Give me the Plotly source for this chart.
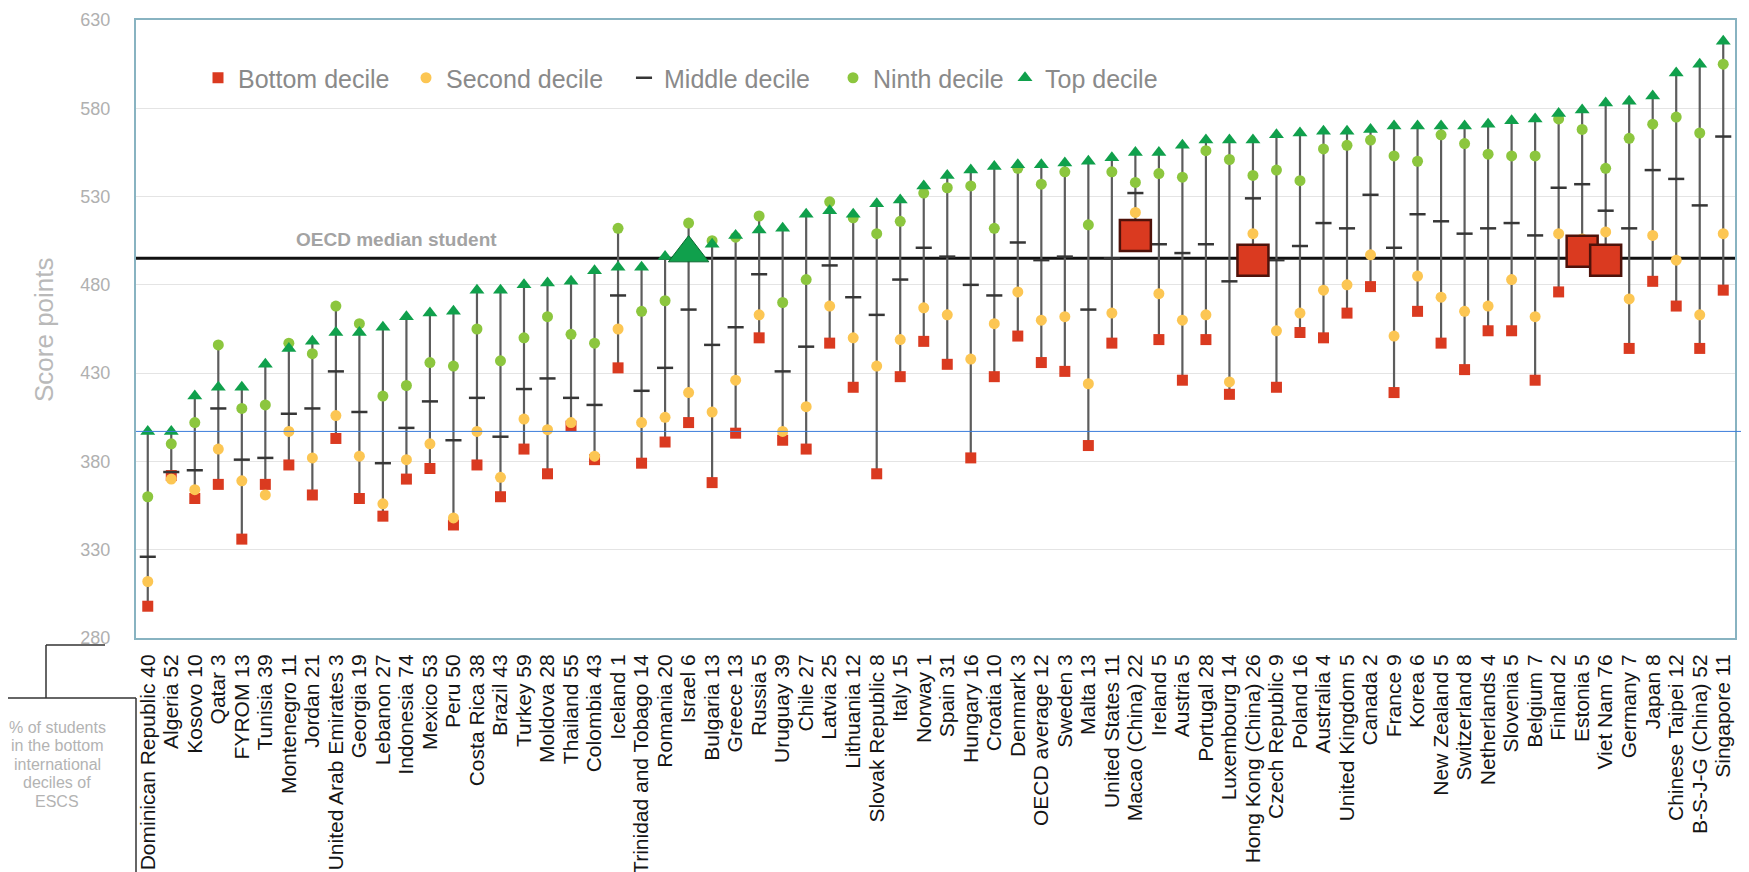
import plotly.graph_objects as go

# ---------------- data ----------------
countries = [
    "Dominican Republic", "Algeria", "Kosovo", "Qatar", "FYROM", "Tunisia", "Montenegro",
    "Jordan", "United Arab Emirates", "Georgia", "Lebanon", "Indonesia", "Mexico", "Peru",
    "Costa Rica", "Brazil", "Turkey", "Moldova", "Thailand", "Colombia", "Iceland",
    "Trinidad and Tobago", "Romania", "Israel", "Bulgaria", "Greece", "Russia", "Uruguay",
    "Chile", "Latvia", "Lithuania", "Slovak Republic", "Italy", "Norway", "Spain", "Hungary",
    "Croatia", "Denmark", "OECD average", "Sweden", "Malta", "United States", "Macao (China)",
    "Ireland", "Austria", "Portugal", "Luxembourg", "Hong Kong (China)", "Czech Republic",
    "Poland", "Australia", "United Kingdom", "Canada", "France", "Korea", "New Zealand",
    "Switzerland", "Netherlands", "Slovenia", "Belgium", "Finland", "Estonia", "Viet Nam",
    "Germany", "Japan", "Chinese Taipei", "B-S-J-G (China)", "Singapore",
]
pct_bottom_escs = [
    40, 52, 10, 3, 13, 39, 11, 21, 3, 19, 27, 74, 53, 50, 38, 43, 59, 28, 55, 43, 1,
    14, 20, 6, 13, 13, 5, 39, 27, 25, 12, 8, 15, 1, 31, 16, 10, 3, 12, 3, 13, 11, 22,
    5, 5, 28, 14, 26, 9, 16, 4, 5, 2, 9, 6, 5, 8, 4, 5, 7, 2, 5, 76, 7, 8, 12, 52, 11,
]
bottom_decile = [
    298, 372, 359, 367, 336, 367, 378, 361, 393, 359, 349, 370, 376, 344, 378, 360, 387,
    373, 400, 381, 433, 379, 391, 402, 368, 396, 450, 392, 387, 447, 422, 373, 428, 448,
    435, 382, 428, 451, 436, 431, 389, 447, 508, 449, 426, 449, 418, 494, 422, 453, 450,
    464, 479, 419, 465, 447, 432, 454, 454, 426, 476, 499, 494, 444, 482, 468, 444, 477,
]
second_decile = [
    312, 370, 364, 387, 369, 361, 397, 382, 406, 383, 356, 381, 390, 348, 397, 371, 404,
    398, 402, 383, 455, 402, 405, 419, 408, 426, 463, 397, 411, 468, 450, 434, 449, 467,
    463, 438, 458, 476, 460, 462, 424, 464, 521, 475, 460, 463, 425, 509, 454, 464, 477,
    480, 497, 451, 485, 473, 465, 468, 483, 462, 509, 506, 510, 472, 508, 494, 463, 509,
]
middle_decile = [
    326, 374, 375, 410, 381, 382, 407, 410, 431, 408, 379, 399, 414, 392, 416, 394, 421,
    427, 416, 412, 474, 420, 433, 466, 446, 456, 486, 431, 445, 491, 473, 463, 483, 501,
    496, 480, 474, 504, 494, 496, 466, 495, 532, 503, 498, 503, 482, 529, 494, 502, 515,
    512, 531, 501, 520, 516, 509, 512, 515, 508, 535, 537, 522, 512, 545, 540, 525, 564,
]
ninth_decile = [
    360, 390, 402, 446, 410, 412, 447, 441, 468, 458, 417, 423, 436, 434, 455, 437, 450,
    462, 452, 447, 512, 465, 471, 515, 505, 507, 519, 470, 483, 527, 518, 509, 516, 532,
    535, 536, 512, 546, 537, 544, 514, 544, 538, 543, 541, 556, 551, 542, 545, 539, 557,
    559, 562, 553, 550, 565, 560, 554, 553, 553, 574, 568, 546, 563, 571, 575, 566, 605,
]
top_decile = [
    397, 397, 417, 422, 422, 435, 444, 448, 453, 453, 456, 462, 464, 465, 477, 477, 480,
    481, 482, 488, 490, 490, 496, 498, 503, 508, 511, 512, 520, 522, 520, 526, 528, 536,
    542, 545, 547, 548, 548, 549, 550, 552, 555, 555, 559, 562, 562, 562, 565, 566, 567,
    567, 568, 570, 570, 570, 570, 571, 573, 574, 577, 579, 583, 584, 587, 600, 605, 618,
]
highlight_bottom = ["Macao (China)", "Hong Kong (China)", "Estonia", "Viet Nam"]
highlight_top = ["Israel"]
oecd_median_score = 495
blue_ref_score = 397
y_tickvals = [280, 330, 380, 430, 480, 530, 580, 630]
series_names = ["Bottom decile", "Second decile", "Middle decile", "Ninth decile", "Top decile"]
box_lines = ["% of students", "in the bottom", "international", "deciles of", "ESCS"]

# ---------------- layout geometry ----------------
W, H = 1749, 872
OFF = 8  # page body margin offset of the rendered figure
L, R, T, B = 128, 22, 12, 242
PW, PH = W - L - R, H - T - B


def sx(screen_x):
    return (screen_x - OFF - L) / PW


def sy(screen_y):
    return 1 - (screen_y - OFF - T) / PH


FONT = "Liberation Sans, Arial, sans-serif"
labels = [f"{c} {p}" for c, p in zip(countries, pct_bottom_escs)]

fig = go.Figure()

# vertical range lines (min to max of each country)
lx, ly = [], []
for lab, vals in zip(labels, zip(bottom_decile, second_decile, middle_decile, ninth_decile, top_decile)):
    lx += [lab, lab, None]
    ly += [min(vals), max(vals), None]
fig.add_trace(go.Scatter(x=lx, y=ly, mode="lines", line=dict(color="#5c5c5c", width=2.2),
                         showlegend=False, hoverinfo="skip"))

legend_widths = [163, 173, 164, 127, 120]
fig.add_trace(go.Scatter(x=labels, y=bottom_decile, mode="markers", name=series_names[0],
                         legendwidth=legend_widths[0],
                         marker=dict(symbol="square", size=11, color="#da3a20")))
fig.add_trace(go.Scatter(x=labels, y=second_decile, mode="markers", name=series_names[1],
                         legendwidth=legend_widths[1],
                         marker=dict(symbol="circle", size=11, color="#fcc653")))
fig.add_trace(go.Scatter(x=labels, y=middle_decile, mode="markers", name=series_names[2],
                         legendwidth=legend_widths[2],
                         marker=dict(symbol="line-ew", size=11.5, color="#363636",
                                     line=dict(color="#363636", width=2.5))))
fig.add_trace(go.Scatter(x=labels, y=ninth_decile, mode="markers", name=series_names[3],
                         legendwidth=legend_widths[3],
                         marker=dict(symbol="circle", size=11, color="#8cc63e")))
fig.add_trace(go.Scatter(x=labels, y=top_decile, mode="markers", name=series_names[4],
                         legendwidth=legend_widths[4],
                         marker=dict(symbol="triangle-up", size=13, color="#10a04c")))

# highlighted (enlarged) markers
hb_x = [lab for lab, c in zip(labels, countries) if c in highlight_bottom]
hb_y = [v for v, c in zip(bottom_decile, countries) if c in highlight_bottom]
fig.add_trace(go.Scatter(x=hb_x, y=hb_y, mode="markers", showlegend=False,
                         marker=dict(symbol="square", size=31, color="#da3a20",
                                     line=dict(color="#4e120a", width=2.5))))
ht_x = [lab for lab, c in zip(labels, countries) if c in highlight_top]
ht_y = [v for v, c in zip(top_decile, countries) if c in highlight_top]
fig.add_trace(go.Scatter(x=ht_x, y=ht_y, mode="markers", showlegend=False,
                         marker=dict(symbol="triangle-up", size=35, color="#10a04c",
                                     line=dict(color="#0a6a30", width=1))))

BOX_COLOR = "#333333"
shapes = [
    dict(type="line", xref="paper", yref="y", x0=0, x1=1, y0=oecd_median_score, y1=oecd_median_score,
         line=dict(color="#111111", width=3), layer="below"),
    dict(type="line", xref="paper", yref="y", x0=0, x1=sx(W + 20), y0=blue_ref_score, y1=blue_ref_score,
         line=dict(color="#3b7ddb", width=1), layer="above"),
    # bracket and box for the label note
    dict(type="line", xref="paper", yref="paper", x0=sx(46), x1=sx(105), y0=sy(645), y1=sy(645),
         line=dict(color=BOX_COLOR, width=1.5)),
    dict(type="line", xref="paper", yref="paper", x0=sx(46), x1=sx(46), y0=sy(645), y1=sy(698),
         line=dict(color=BOX_COLOR, width=1.5)),
    dict(type="line", xref="paper", yref="paper", x0=sx(5), x1=sx(136), y0=sy(698), y1=sy(698),
         line=dict(color=BOX_COLOR, width=1.5)),
    dict(type="line", xref="paper", yref="paper", x0=sx(136), x1=sx(136), y0=sy(698), y1=sy(H + 20),
         line=dict(color=BOX_COLOR, width=1.5)),
]

annotations = [
    dict(text="<b>OECD median student</b>", xref="paper", yref="y", x=sx(396), y=oecd_median_score,
         yshift=19, showarrow=False, xanchor="center", yanchor="middle",
         font=dict(family=FONT, size=19, color="#a3a3a3")),
    dict(text="Score points", xref="paper", yref="paper", x=sx(44), y=sy(330), textangle=-90,
         showarrow=False, xanchor="center", yanchor="middle",
         font=dict(family=FONT, size=26, color="#b9b9b9")),
]
for i, line in enumerate(box_lines):
    annotations.append(dict(text=line, xref="paper", yref="paper", x=sx(57), y=sy(727 + 18.5 * i),
                            showarrow=False, xanchor="center", yanchor="middle",
                            font=dict(family=FONT, size=16, color="#b3b3b3")))

fig.update_layout(
    width=W, height=H,
    margin=dict(l=L, r=R, t=T, b=B, autoexpand=False),
    paper_bgcolor="white", plot_bgcolor="white",
    font=dict(family=FONT),
    shapes=shapes,
    annotations=annotations,
    legend=dict(orientation="h", x=sx(198), xanchor="left", y=sy(78), yanchor="middle",
                bgcolor="rgba(0,0,0,0)",
                font=dict(family=FONT, size=25, color="#8a8a8a"), itemclick=False),
    xaxis=dict(type="category", categoryorder="array", categoryarray=labels,
               tickmode="array", tickvals=labels, ticktext=labels,
               range=[-0.5, len(labels) - 0.5], tickangle=-90, showgrid=False,
               tickfont=dict(family=FONT, size=21, color="#151515"),
               showline=True, mirror=True, linecolor="#88b3c1", linewidth=2,
               ticks="", ticklabelstandoff=6, automargin=False),
    yaxis=dict(range=[280, 630], tickvals=y_tickvals, showgrid=True, gridcolor="#e4e4e4", gridwidth=1,
               zeroline=False, showline=True, mirror=True, linecolor="#88b3c1", linewidth=2,
               tickfont=dict(family=FONT, size=18, color="#b0b0b0"), ticks="", ticklabelstandoff=20,
               ticklabeloverflow="allow", automargin=False),
)

fig.write_html("out.html")
